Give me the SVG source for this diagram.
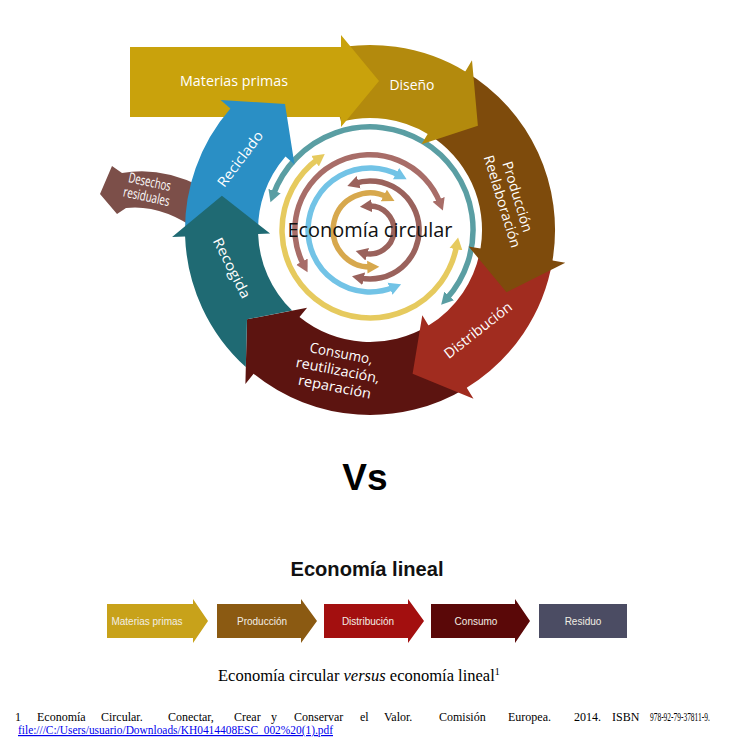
<svg xmlns="http://www.w3.org/2000/svg" width="731" height="752" viewBox="0 0 731 752">
<style>
.lbl{font-family:"Open Sans","Noto Sans",sans-serif;fill:#ffffff;font-size:14px;text-anchor:middle}
.arc{fill:none;stroke-width:5.5}
.lin{font-family:"Liberation Sans",Arial,sans-serif;font-size:10px;fill:#f2eee4;text-anchor:middle}
.fn{font-family:"Liberation Serif","Times New Roman",serif;font-size:12px;fill:#000}
</style>
<defs>
<marker id="mTeal" markerUnits="userSpaceOnUse" markerWidth="14" markerHeight="14" viewBox="0 0 14 14" refX="4" refY="7" orient="auto-start-reverse"><path d="M0,0.5 L12,7 L0,13.5 Z" fill="#5a9ea3"/></marker>
<marker id="mYel" markerUnits="userSpaceOnUse" markerWidth="14" markerHeight="14" viewBox="0 0 14 14" refX="4" refY="7" orient="auto-start-reverse"><path d="M0,0.5 L12,7 L0,13.5 Z" fill="#e6ca5e"/></marker>
<marker id="mMau" markerUnits="userSpaceOnUse" markerWidth="14" markerHeight="14" viewBox="0 0 14 14" refX="4" refY="7" orient="auto-start-reverse"><path d="M0,0.5 L12,7 L0,13.5 Z" fill="#a86d68"/></marker>
<marker id="mMau2" markerUnits="userSpaceOnUse" markerWidth="14" markerHeight="14" viewBox="0 0 14 14" refX="4" refY="7" orient="auto-start-reverse"><path d="M0,0.5 L12,7 L0,13.5 Z" fill="#9a625c"/></marker>
<marker id="mBlue" markerUnits="userSpaceOnUse" markerWidth="14" markerHeight="14" viewBox="0 0 14 14" refX="4" refY="7" orient="auto-start-reverse"><path d="M0,0.5 L12,7 L0,13.5 Z" fill="#72c3e6"/></marker>
<marker id="mGold" markerUnits="userSpaceOnUse" markerWidth="14" markerHeight="14" viewBox="0 0 14 14" refX="4" refY="7" orient="auto-start-reverse"><path d="M0,0.5 L12,7 L0,13.5 Z" fill="#d7a84d"/></marker>
</defs>
<rect width="731" height="752" fill="#ffffff"/>

<g id="center-arrows">
<path class="arc" stroke="#5a9ea3" marker-start="url(#mTeal)" marker-end="url(#mTeal)" d="M273.2,194.8 A103,103 0 1 1 446.5,298.9"/>
<path class="arc" stroke="#e6ca5e" marker-start="url(#mYel)" marker-end="url(#mYel)" d="M456.7,245.3 A88,88 0 1 1 318.3,158.8"/>
<path class="arc" stroke="#a86d68" marker-start="url(#mMau)" marker-end="url(#mMau)" d="M303.8,265.2 A75,75 0 1 1 440.0,203.1"/>
<path class="arc" stroke="#72c3e6" marker-start="url(#mBlue)" marker-end="url(#mBlue)" d="M393.7,287.3 A62,62 0 1 1 399.6,175.5"/>
<path class="arc" stroke="#9a625c" marker-start="url(#mMau2)" marker-end="url(#mMau2)" d="M354.9,183.4 A49,49 0 1 1 359.8,277.9"/>
<path class="arc" stroke="#d7a84d" marker-start="url(#mGold)" marker-end="url(#mGold)" d="M371.3,267.0 A37,37 0 1 1 387.4,197.3"/>
<path class="arc" stroke="#9a625c" marker-start="url(#mMau2)" marker-end="url(#mMau2)" d="M367.9,206.1 A24,24 0 1 1 363.4,253.1"/>
</g>

<g id="desechos">
<path fill="#7c4f49" d="M200,186 Q160,166 122,173 L112,166 L100,194 L117,214 L126,208 Q162,204 200,232 Z"/>
<g transform="translate(148,190) rotate(12)">
<text class="lbl" font-size="11" y="-3.5" textLength="43" lengthAdjust="spacingAndGlyphs">Desechos</text>
<text class="lbl" font-size="11" y="11.5" textLength="47" lengthAdjust="spacingAndGlyphs">residuales</text>
</g>
</g>

<g id="consumo">
<path fill="#5c1410" d="M466.7,387.7 A185,185 0 0 1 253.6,373.8 L245.4,383.9 L247.0,319.3 L307.1,307.7 L299.5,317.0 A112,112 0 0 0 428.5,325.5 Z"/>
<g transform="translate(338,370) rotate(11)">
<text class="lbl" y="-12" textLength="64" lengthAdjust="spacingAndGlyphs">Consumo,</text>
<text class="lbl" y="5" textLength="85" lengthAdjust="spacingAndGlyphs">reutilización,</text>
<text class="lbl" y="22" textLength="74" lengthAdjust="spacingAndGlyphs">reparación</text>
</g>
</g>

<g id="distribucion">
<path fill="#a12c1f" d="M552.5,260.5 A185,185 0 0 1 466.7,387.7 L473.5,398.8 L412.6,373.8 L422.3,315.3 L428.5,325.5 A112,112 0 0 0 480.5,248.5 Z"/>
<text class="lbl" transform="translate(478,330) rotate(-38)" y="5" textLength="82" lengthAdjust="spacingAndGlyphs">Distribución</text>
</g>

<g id="produccion">
<path fill="#7e4b0c" d="M465.3,71.4 A185,185 0 0 1 552.5,260.5 L565.3,262.7 L506.5,292.2 L468.6,246.5 L480.5,248.5 A112,112 0 0 0 427.7,134.0 Z"/>
<g transform="translate(510,199) rotate(73)">
<text class="lbl" y="-3" textLength="73" lengthAdjust="spacingAndGlyphs">Producción</text>
<text class="lbl" y="13" textLength="96" lengthAdjust="spacingAndGlyphs">Reelaboración</text>
</g>
</g>

<g id="diseno">
<path fill="#b38a0d" d="M322.1,51.3 A185,185 0 0 1 465.3,71.4 L472.0,60.3 L477.9,125.8 L421.5,144.3 L427.7,134.0 A112,112 0 0 0 341.0,121.8 Z"/>
<text class="lbl" x="412" y="90" font-size="15" textLength="45" lengthAdjust="spacingAndGlyphs">Diseño</text>
</g>

<g id="materias-primas">
<path fill="#c9a20c" d="M130,47 H341 V35 L379,81 L341,127 V117 H130 Z"/>
<text class="lbl" x="234" y="86" font-size="15" textLength="108" lengthAdjust="spacingAndGlyphs">Materias primas</text>
</g>

<g id="reciclado">
<path fill="#2a8fc5" d="M185.1,236.5 A185,185 0 0 1 230.4,108.6 L220.6,100.1 L285.0,104.0 L294.5,164.4 L285.5,156.5 A112,112 0 0 0 258.1,233.9 Z"/>
<text class="lbl" transform="translate(240,159) rotate(-53)" y="5" textLength="66" lengthAdjust="spacingAndGlyphs">Reciclado</text>
</g>

<g id="recogida">
<path fill="#1f6a73" d="M245.8,367.1 L247.0,319.3 L292.1,310.6 A112,112 0 0 1 258.1,233.9 L270.1,233.5 L221.9,195.8 L172.1,236.9 L185.1,236.5 A185,185 0 0 0 245.8,367.1 Z"/>
<text class="lbl" transform="translate(232,268) rotate(63)" y="5" textLength="66" lengthAdjust="spacingAndGlyphs">Recogida</text>
</g>

<g id="titulo-circular">
<text x="370" y="237" font-family="'Open Sans','Noto Sans',sans-serif" font-size="20" fill="#111111" text-anchor="middle" textLength="165" lengthAdjust="spacingAndGlyphs">Economía circular</text>
</g>

<text x="365" y="490" font-family="'Liberation Sans',Arial,sans-serif" font-weight="bold" font-size="37" fill="#000" text-anchor="middle">Vs</text>

<text x="367" y="576" font-family="'Liberation Sans',Arial,sans-serif" font-weight="bold" font-size="20" fill="#111" text-anchor="middle" textLength="153" lengthAdjust="spacingAndGlyphs">Economía lineal</text>

<g id="lin-materias">
<path fill="#c8a21a" d="M107,604 H193 V599 L208,621 L193,643 V638 H107 Z"/>
<text class="lin" x="147" y="625">Materias primas</text>
</g>
<g id="lin-produccion">
<path fill="#8b5a12" d="M217,604 H301 V599 L317,621 L301,643 V638 H217 Z"/>
<text class="lin" x="262" y="625">Producción</text>
</g>
<g id="lin-distribucion">
<path fill="#a30f0f" d="M324,604 H408 V599 L424,621 L408,643 V638 H324 Z"/>
<text class="lin" x="368" y="625">Distribución</text>
</g>
<g id="lin-consumo">
<path fill="#5a0808" d="M431,604 H515 V599 L530,621 L515,643 V638 H431 Z"/>
<text class="lin" x="476" y="625">Consumo</text>
</g>
<g id="lin-residuo">
<rect x="539" y="604" width="88" height="34" fill="#4b4c63"/>
<text class="lin" x="583" y="625">Residuo</text>
</g>

<text x="218" y="681" font-family="'Liberation Serif','Times New Roman',serif" font-size="16.5" fill="#000">Economía circular <tspan font-style="italic">versus</tspan> economía lineal<tspan font-size="10" dy="-6">1</tspan></text>

<g id="footnote">
<text class="fn" x="15" y="721">1</text>
<text class="fn" x="37" y="721">Economía</text>
<text class="fn" x="101" y="721">Circular.</text>
<text class="fn" x="168" y="721">Conectar,</text>
<text class="fn" x="234" y="721">Crear</text>
<text class="fn" x="271" y="721">y</text>
<text class="fn" x="294" y="721">Conservar</text>
<text class="fn" x="360" y="721">el</text>
<text class="fn" x="384" y="721">Valor.</text>
<text class="fn" x="439" y="721">Comisión</text>
<text class="fn" x="508" y="721">Europea.</text>
<text class="fn" x="574" y="721">2014.</text>
<text class="fn" x="612" y="721">ISBN</text>
<text class="fn" transform="translate(650,721) scale(0.62,1)">978-92-79-37811-9.</text>
<text class="fn" x="18" y="734" style="fill:#0000ee" text-decoration="underline" textLength="315" lengthAdjust="spacingAndGlyphs">file:///C:/Users/usuario/Downloads/KH0414408ESC_002%20(1).pdf</text>
</g>
</svg>
